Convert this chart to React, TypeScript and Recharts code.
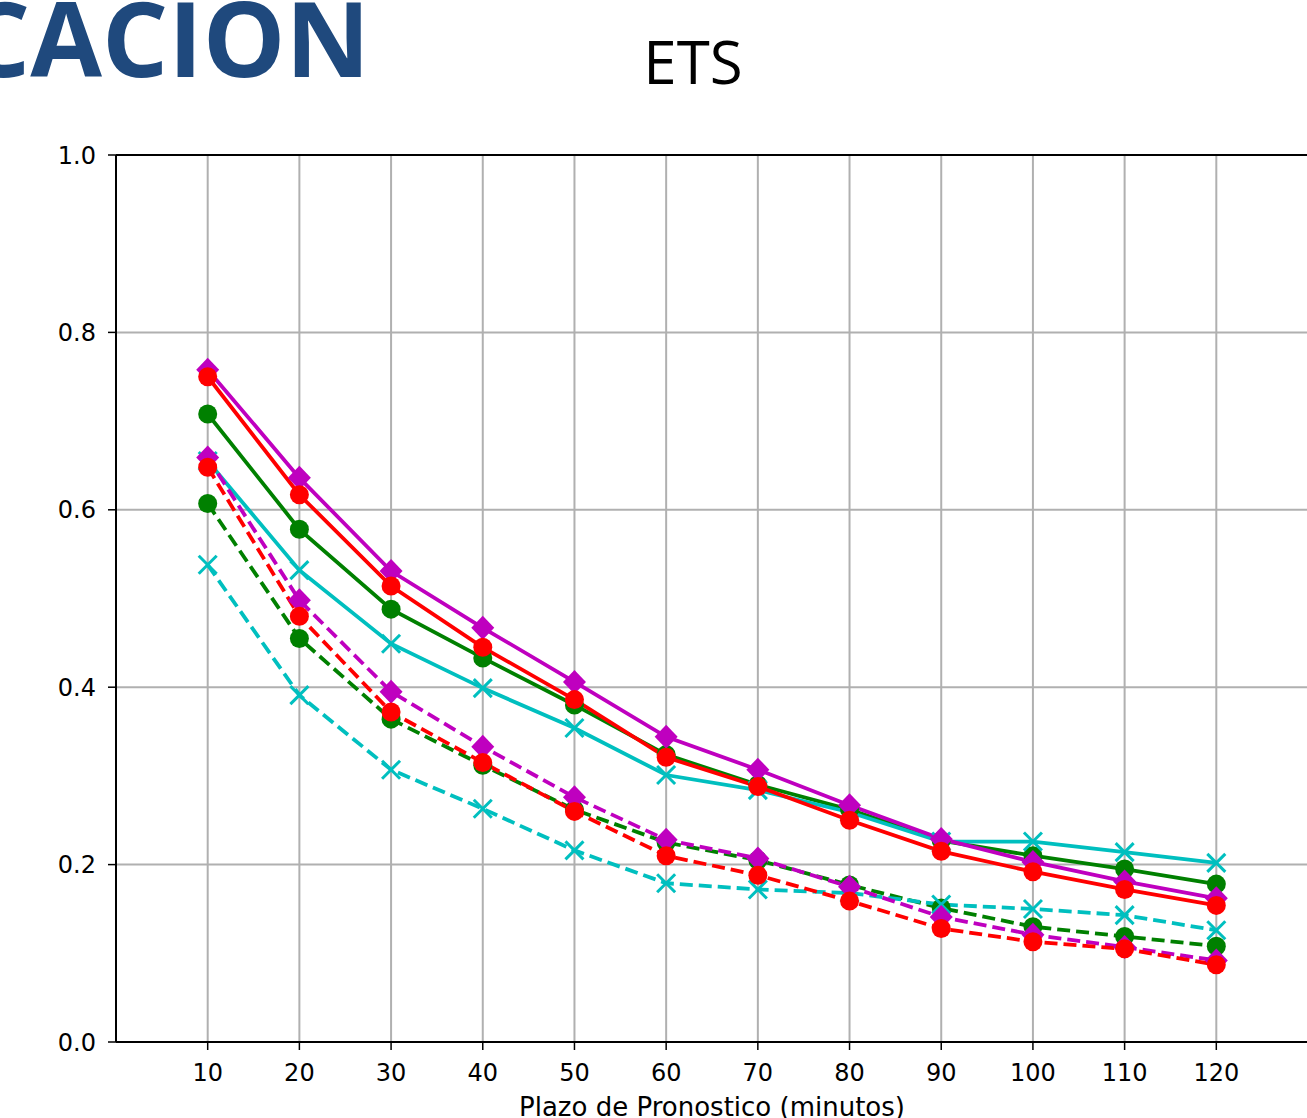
import React from "react";
import { LineChart, Line, XAxis, YAxis, CartesianGrid, ReferenceLine } from "recharts";

const minutes = [10, 20, 30, 40, 50, 60, 70, 80, 90, 100, 110, 120];

const greenSolid = [0.708, 0.578, 0.488, 0.433, 0.380, 0.324, 0.290, 0.262, 0.227, 0.210, 0.195, 0.178];
const greenDashed = [0.607, 0.455, 0.364, 0.312, 0.262, 0.225, 0.205, 0.177, 0.151, 0.130, 0.119, 0.108];
const cyanSolid = [0.655, 0.532, 0.449, 0.399, 0.354, 0.301, 0.284, 0.259, 0.226, 0.226, 0.214, 0.202];
const cyanDashed = [0.538, 0.391, 0.307, 0.263, 0.216, 0.179, 0.172, 0.168, 0.155, 0.150, 0.143, 0.126];
const magentaSolid = [0.758, 0.636, 0.531, 0.467, 0.406, 0.344, 0.307, 0.267, 0.229, 0.203, 0.181, 0.162];
const magentaDashed = [0.659, 0.498, 0.395, 0.333, 0.276, 0.228, 0.207, 0.175, 0.141, 0.121, 0.107, 0.092];
const redSolid = [0.750, 0.617, 0.514, 0.445, 0.386, 0.321, 0.288, 0.250, 0.215, 0.192, 0.172, 0.154];
const redDashed = [0.648, 0.480, 0.372, 0.315, 0.260, 0.210, 0.188, 0.159, 0.128, 0.113, 0.105, 0.087];

const xTicks = [10, 20, 30, 40, 50, 60, 70, 80, 90, 100, 110, 120];
const yTicks = [0, 0.2, 0.4, 0.6, 0.8, 1.0];

const data = minutes.map((m, i) => ({
  m,
  gS: greenSolid[i],
  gD: greenDashed[i],
  cS: cyanSolid[i],
  cD: cyanDashed[i],
  mS: magentaSolid[i],
  mD: magentaDashed[i],
  rS: redSolid[i],
  rD: redDashed[i],
}));

const GREEN = "#008000";
const CYAN = "#00bfbf";
const MAGENTA = "#bf00bf";
const RED = "#ff0000";

const circleDot = (color: string) => (props: any) => {
  const { cx, cy, index } = props;
  if (cx == null || cy == null) return <g key={`c${index}`} />;
  return <circle key={`c${index}`} cx={cx} cy={cy} r={9.5} fill={color} stroke="none" />;
};

const diamondDot = (color: string) => (props: any) => {
  const { cx, cy, index } = props;
  if (cx == null || cy == null) return <g key={`d${index}`} />;
  const h = 11.5;
  const v = 12;
  return (
    <polygon
      key={`d${index}`}
      points={`${cx},${cy - v} ${cx + h},${cy} ${cx},${cy + v} ${cx - h},${cy}`}
      fill={color}
      stroke="none"
    />
  );
};

const xDot = (color: string) => (props: any) => {
  const { cx, cy, index } = props;
  if (cx == null || cy == null) return <g key={`x${index}`} />;
  const s = 9;
  return (
    <g key={`x${index}`}>
      <line x1={cx - s} y1={cy - s} x2={cx + s} y2={cy + s} stroke={color} strokeWidth={3} />
      <line x1={cx - s} y1={cy + s} x2={cx + s} y2={cy - s} stroke={color} strokeWidth={3} />
    </g>
  );
};

const DASH = "13 6";
const LW = 3.8;

export default function App() {
  return (
    <div
      style={{
        position: "absolute",
        left: 0,
        top: 0,
        width: 1307,
        height: 1118,
        overflow: "hidden",
        background: "#fff",
      }}
    >
      <div
        style={{
          position: "absolute",
          right: 1307 - 370,
          top: -34,
          fontFamily: "'Open Sans', sans-serif",
          fontWeight: 700,
          fontSize: 104,
          color: "#1f497d",
          whiteSpace: "nowrap",
          lineHeight: "normal",
        }}
      >
        CACION
      </div>
      <div
        style={{
          position: "absolute",
          left: 693,
          top: 20,
          transform: "translateX(-50%)",
          fontFamily: "'Open Sans', sans-serif",
          fontSize: 60,
          color: "#000",
          whiteSpace: "nowrap",
          lineHeight: "normal",
        }}
      >
        ETS
      </div>
      <div style={{ position: "absolute", left: 0, top: 0 }}>
        <LineChart
          width={1310}
          height={1118}
          data={data}
          margin={{ top: 155, right: 2, bottom: 36, left: 56 }}
        >
          <CartesianGrid stroke="#b0b0b0" strokeWidth={2} />
          <XAxis
            dataKey="m"
            type="number"
            domain={[0, 130]}
            ticks={xTicks}
            interval={0}
            height={40}
            axisLine={{ stroke: "#000", strokeWidth: 2 }}
            tickLine={{ stroke: "#000", strokeWidth: 1.5 }}
            tickSize={8}
            tickMargin={14}
            tick={{ fill: "#000", fontSize: 24, fontFamily: "'DejaVu Sans', sans-serif" }}
          />
          <YAxis
            type="number"
            domain={[0, 1]}
            ticks={yTicks}
            interval={0}
            width={60}
            axisLine={{ stroke: "#000", strokeWidth: 2 }}
            tickLine={{ stroke: "#000", strokeWidth: 1.5 }}
            tickSize={8}
            tickMargin={12}
            tickFormatter={(v: number) => v.toFixed(1)}
            tick={{ fill: "#000", fontSize: 24, fontFamily: "'DejaVu Sans', sans-serif" }}
          />
          <ReferenceLine y={1} stroke="#000" strokeWidth={2} />
          <Line dataKey="gS" stroke={GREEN} strokeWidth={LW} dot={circleDot(GREEN)} isAnimationActive={false} />
          <Line dataKey="gD" stroke={GREEN} strokeWidth={LW} strokeDasharray={DASH} dot={circleDot(GREEN)} isAnimationActive={false} />
          <Line dataKey="cS" stroke={CYAN} strokeWidth={LW} dot={xDot(CYAN)} isAnimationActive={false} />
          <Line dataKey="cD" stroke={CYAN} strokeWidth={LW} strokeDasharray={DASH} dot={xDot(CYAN)} isAnimationActive={false} />
          <Line dataKey="mS" stroke={MAGENTA} strokeWidth={LW} dot={diamondDot(MAGENTA)} isAnimationActive={false} />
          <Line dataKey="mD" stroke={MAGENTA} strokeWidth={LW} strokeDasharray={DASH} dot={diamondDot(MAGENTA)} isAnimationActive={false} />
          <Line dataKey="rS" stroke={RED} strokeWidth={LW} dot={circleDot(RED)} isAnimationActive={false} />
          <Line dataKey="rD" stroke={RED} strokeWidth={LW} strokeDasharray={DASH} dot={circleDot(RED)} isAnimationActive={false} />
        </LineChart>
      </div>
      <div
        style={{
          position: "absolute",
          left: 712,
          top: 1092,
          transform: "translateX(-50%)",
          fontFamily: "'DejaVu Sans', sans-serif",
          fontSize: 26,
          color: "#000",
          whiteSpace: "nowrap",
          lineHeight: "normal",
        }}
      >
        Plazo de Pronostico (minutos)
      </div>
    </div>
  );
}
